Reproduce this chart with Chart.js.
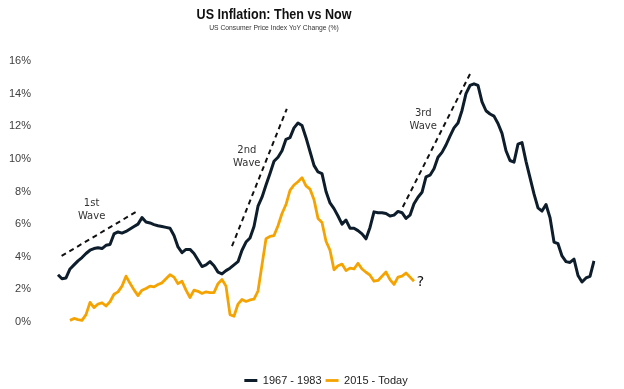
<!DOCTYPE html>
<html>
<head>
<meta charset="utf-8">
<script src="https://cdn.jsdelivr.net/npm/chart.js@4.4.1/dist/chart.umd.min.js"></script>
<style>
  html, body { margin: 0; padding: 0; background: #fff; }
  .wrap { position: relative; width: 624px; height: 389px; }
  canvas { position: absolute; left: 0; top: 0; }
  .title, .subtitle { position: absolute; left: 0; width: 548px; text-align: center; white-space: nowrap; transform-origin: 274px 0; }
  .title { top: 6px; color: #111; font: bold 15.5px/15.5px "Liberation Sans", sans-serif; transform: scaleX(0.81); }
  .subtitle { top: 24px; color: #333; font: 7.5px/7.5px "Liberation Sans", sans-serif; transform: scaleX(0.9); }
</style>
</head>
<body>
<div class="wrap">
  <canvas id="chart" width="624" height="389"></canvas>
  <div class="title">US Inflation: Then vs Now</div>
  <div class="subtitle">US Consumer Price Index YoY Change (%)</div>
</div>
<script>
  // CPI YoY %, one value per step along the x axis
  const thenSeries = [
    2.9, 2.65, 2.7, 3.25, 3.5, 3.75, 3.95, 4.2, 4.4, 4.5,
    4.55, 4.5, 4.7, 4.75, 5.4, 5.52, 5.45, 5.55, 5.7, 5.85,
    6.0, 6.4, 6.13, 6.07, 5.97, 5.9, 5.85, 5.8, 5.75, 5.3,
    4.6, 4.25, 4.45, 4.45, 4.2, 3.8, 3.4, 3.5, 3.7, 3.45,
    3.06, 2.95, 3.15, 3.3, 3.5, 3.7, 4.4, 4.9, 5.15, 5.85,
    7.1, 7.65, 8.4, 9.1, 9.85, 10.1, 10.5, 11.2, 11.3, 11.9,
    12.2, 12.05, 11.3, 10.45, 9.6, 9.2, 9.1, 8.0, 7.3, 6.95,
    6.5, 6.0, 6.25, 5.75, 5.75, 5.6, 5.4, 5.1, 5.8, 6.75,
    6.7, 6.7, 6.65, 6.5, 6.55, 6.78, 6.7, 6.35, 6.55, 7.25,
    7.65, 7.95, 8.9, 9.0, 9.4, 10.1, 10.4, 10.85, 11.4, 11.9,
    12.2, 12.97, 14.0, 14.5, 14.6, 14.5, 13.5, 12.95, 12.75, 12.62,
    12.17, 11.56, 10.5, 9.9, 9.8, 10.9, 11.0, 9.85, 8.85, 7.85,
    7.0, 6.8, 7.2, 6.4, 4.9, 4.8, 4.05, 3.7, 3.65, 3.85,
    2.85, 2.45, 2.7, 2.8, 3.75
  ];
  const nowSeries = [
    null, null, null,
    0.1, 0.22, 0.15, 0.1, 0.45, 1.2, 0.88, 1.1, 1.18, 0.98,
    1.24, 1.7, 1.85, 2.2, 2.81, 2.37, 1.97, 1.62, 1.95, 2.05,
    2.2, 2.15, 2.3, 2.4, 2.65, 2.9, 2.75, 2.35, 2.5, 1.95,
    1.5, 1.95, 1.88, 1.75, 1.85, 1.8, 1.8, 2.35, 2.6, 2.2,
    0.45, 0.35, 1.1, 1.38, 1.26, 1.35, 1.4, 1.9, 3.5, 5.1,
    5.25, 5.3, 5.9, 6.65, 7.2, 8.07, 8.4, 8.6, 8.85, 8.35,
    8.15, 7.5, 6.35, 6.1, 4.95, 4.4, 3.2, 3.45, 3.55, 3.15,
    3.3, 3.25, 3.6, 3.25, 3.05, 2.87, 2.5, 2.55, 2.8, 3.06,
    2.6, 2.3, 2.75, 2.81, 3.0, 2.75, 2.5
  ];
  const steps = thenSeries.map((_, i) => i);
  const seriesNames = ["1967 - 1983", "2015 - Today"];
  const yTicks = [0, 2, 4, 6, 8, 10, 12, 14, 16];

  // dashed "wave" trend lines, in [step, percent]
  const waveNames = ["1st", "2nd", "3rd"];
  const waveStarts = [[0.9, 4.05], [43.5, 4.65], [86.2, 7.05]];
  const waveEnds = [[19.5, 6.75], [57.2, 13.07], [103, 15.2]];
  const waveTextAt = [[8.4, 7.28], [47.2, 10.52], [91.3, 12.76]];
  const questionAt = [90.6, 2.45];

  const waveNotes = {
    id: "waveNotes",
    afterDatasetsDraw(chart) {
      const { ctx, scales: { x, y } } = chart;
      ctx.save();
      ctx.strokeStyle = "#111";
      ctx.lineWidth = 2;
      ctx.setLineDash([5, 4]);
      waveStarts.forEach((start, i) => {
        const end = waveEnds[i];
        ctx.beginPath();
        ctx.moveTo(x.getPixelForValue(start[0]), y.getPixelForValue(start[1]));
        ctx.lineTo(x.getPixelForValue(end[0]), y.getPixelForValue(end[1]));
        ctx.stroke();
      });
      ctx.setLineDash([]);
      ctx.fillStyle = "#333";
      ctx.font = '10px "DejaVu Sans"';
      ctx.textAlign = "center";
      ctx.textBaseline = "middle";
      waveNames.forEach((name, i) => {
        const px = x.getPixelForValue(waveTextAt[i][0]);
        const py = y.getPixelForValue(waveTextAt[i][1]);
        ctx.fillText(name, px, py);
        ctx.fillText("Wave", px, py + 13);
      });
      ctx.fillStyle = "#111";
      ctx.font = '14px "DejaVu Sans"';
      ctx.fillText("?", x.getPixelForValue(questionAt[0]), y.getPixelForValue(questionAt[1]));
      ctx.restore();
    }
  };

  new Chart(document.getElementById("chart"), {
    type: "line",
    data: {
      labels: steps,
      datasets: [
        { label: seriesNames[0], data: thenSeries, borderColor: "#0d1d2b", backgroundColor: "#0d1d2b", borderWidth: 3, pointRadius: 0, tension: 0, borderJoinStyle: "round" },
        { label: seriesNames[1], data: nowSeries, borderColor: "#f5a300", backgroundColor: "#f5a300", borderWidth: 2.8, pointRadius: 0, tension: 0, borderJoinStyle: "round" }
      ]
    },
    options: {
      responsive: false,
      animation: false,
      layout: { padding: { left: 8, right: 30, top: 61, bottom: -7 } },
      plugins: {
        title: { display: false },
        tooltip: { enabled: false },
        legend: {
          position: "bottom",
          fullSize: false,
          labels: {
            usePointStyle: true, pointStyle: "line", pointStyleWidth: 13,
            padding: 4, color: "#222", font: { family: "Liberation Sans", size: 11 }
          }
        }
      },
      scales: {
        x: {
          display: true,
          grid: { display: false, drawTicks: false },
          border: { display: false },
          ticks: { display: false },
          afterFit: (axis) => { axis.height = 49; }
        },
        y: {
          min: yTicks[0],
          max: yTicks[yTicks.length - 1],
          grid: { display: false, drawTicks: false },
          border: { display: false },
          afterBuildTicks: (axis) => { axis.ticks = yTicks.map((value) => ({ value })); },
          afterFit: (axis) => { axis.width = 50; },
          ticks: { padding: 27, color: "#404040", font: { family: "Liberation Sans", size: 11 }, callback: (value) => value + "%" }
        }
      }
    },
    plugins: [waveNotes]
  });
</script>
</body>
</html>
